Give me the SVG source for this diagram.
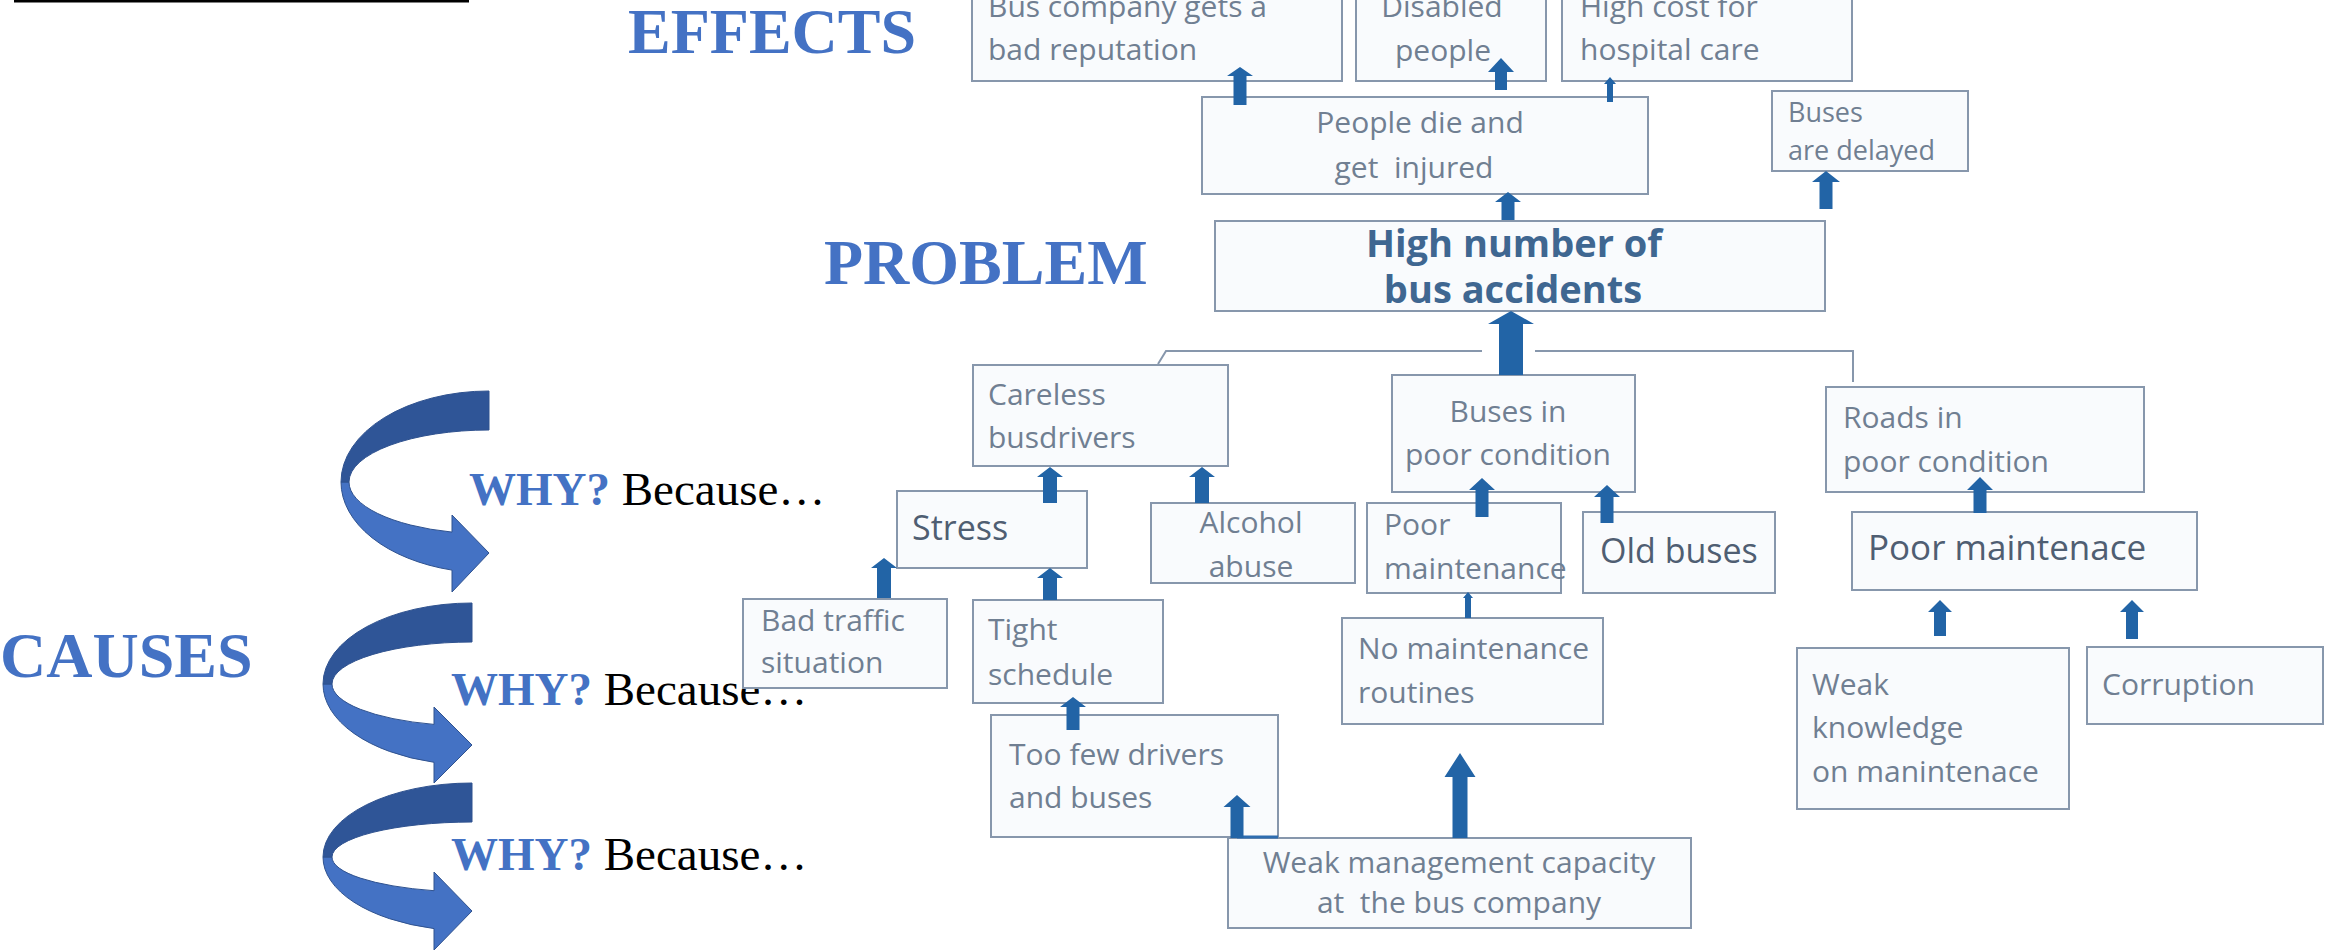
<svg xmlns="http://www.w3.org/2000/svg" width="2325" height="951" viewBox="0 0 2325 951">
  <style>
    .box { fill: #F9FBFD; stroke: #8797AC; stroke-width: 2; }
    .t { font-family: "Open Sans", "Noto Sans", sans-serif; font-size: 30px; fill: #707F92; }
    .c { text-anchor: middle; }
    .dk { fill: #4F5E72; }
    .big { font-family: "Open Sans", "Noto Sans", sans-serif; font-size: 38px; font-weight: bold; fill: #3F6791; text-anchor: middle; }
    .hd { font-family: "Liberation Serif", "Times New Roman", serif; font-weight: bold; font-size: 64px; fill: #4472C4; }
    .why { font-family: "Liberation Serif", "Times New Roman", serif; font-size: 47px; fill: #000000; }
    .why .q { font-weight: bold; fill: #4472C4; }
    .arr { fill: #2264A6; }
    .link { fill: none; stroke: #8797AC; stroke-width: 2; }
    .back { fill: #2F5597; stroke: #2F528F; stroke-width: 1; }
    .front { fill: #4472C4; stroke: #2F528F; stroke-width: 1; }
  </style>

  <!-- header rule -->
  <line x1="14" y1="1" x2="469" y2="1" stroke="#000000" stroke-width="3"/>

  <!-- section headings -->
  <g id="headings">
    <text class="hd" x="628" y="53">EFFECTS</text>
    <text class="hd" x="824" y="284">PROBLEM</text>
    <text class="hd" x="0" y="677">CAUSES</text>
  </g>

  <!-- curled "why" arrows, each a darker back band and a lighter front band with head -->
  <g id="why-arrows">
    <g id="why1">
      <path class="front" d="M341 482 A148 91 0 0 0 452 570.1 L452 592 L489 553 L452 515 L452 532.1 A140 52 0 0 1 349 482 Z"/>
      <path class="back" d="M489 391 A148 91 0 0 0 341 482 L349 482 A140 52 0 0 1 489 430 Z"/>
    </g>
    <g id="why2">
      <path class="front" d="M323 684 A149 81 0 0 0 434 762.3 L434 783 L472 745 L434 707 L434 724.4 A141 42 0 0 1 332 684 Z"/>
      <path class="back" d="M472 603 A149 81 0 0 0 323 684 L332 684 A141 42 0 0 1 472 642 Z"/>
    </g>
    <g id="why3">
      <path class="front" d="M323 857 A149 74 0 0 0 434 928.6 L434 950 L472 911 L434 872 L434 890.7 A141 35 0 0 1 332 857 Z"/>
      <path class="back" d="M472 783 A149 74 0 0 0 323 857 L332 857 A141 35 0 0 1 472 822 Z"/>
    </g>
  </g>

  <g id="why-labels">
    <text class="why" x="469" y="505"><tspan class="q">WHY?</tspan> Because…</text>
    <text class="why" x="451" y="705"><tspan class="q">WHY?</tspan> Because…</text>
    <text class="why" x="451" y="870"><tspan class="q">WHY?</tspan> Because…</text>
  </g>

  <!-- effects -->
  <g id="bus-reputation">
    <rect class="box" x="972" y="-5" width="370" height="86"/>
    <text class="t" x="988" y="17">Bus company gets a</text>
    <text class="t" x="988" y="60">bad reputation</text>
  </g>
  <g id="disabled-people">
    <rect class="box" x="1356" y="-5" width="190" height="86"/>
    <text class="t c" x="1442" y="17">Disabled</text>
    <text class="t c" x="1443" y="61">people</text>
  </g>
  <g id="hospital-cost">
    <rect class="box" x="1562" y="-5" width="290" height="86"/>
    <text class="t" x="1580" y="17">High cost for</text>
    <text class="t" x="1580" y="60">hospital care</text>
  </g>
  <g id="people-die">
    <rect class="box" x="1202" y="97" width="446" height="97"/>
    <text class="t c" x="1420" y="133">People die and</text>
    <text class="t c" x="1414" y="178" xml:space="preserve">get  injured</text>
  </g>
  <g id="buses-delayed">
    <rect class="box" x="1772" y="91" width="196" height="80"/>
    <text class="t" x="1788" y="122" style="font-size:27px">Buses</text>
    <text class="t" x="1788" y="160" style="font-size:27px">are delayed</text>
  </g>

  <!-- core problem -->
  <g id="problem">
    <rect class="box" x="1215" y="221" width="610" height="90"/>
    <text class="big" x="1514" y="257">High number of</text>
    <text class="big" x="1513" y="303">bus accidents</text>
  </g>

  <!-- causes -->
  <g id="careless-drivers">
    <rect class="box" x="973" y="365" width="255" height="101"/>
    <text class="t" x="988" y="405">Careless</text>
    <text class="t" x="988" y="448">busdrivers</text>
  </g>
  <g id="buses-poor">
    <rect class="box" x="1392" y="375" width="243" height="117"/>
    <text class="t c" x="1508" y="422">Buses in</text>
    <text class="t c" x="1508" y="465">poor condition</text>
  </g>
  <g id="roads-poor">
    <rect class="box" x="1826" y="387" width="318" height="105"/>
    <text class="t" x="1843" y="428">Roads in</text>
    <text class="t" x="1843" y="472">poor condition</text>
  </g>
  <g id="stress">
    <rect class="box" x="897" y="491" width="190" height="77"/>
    <text class="t dk" x="912" y="540" style="font-size:34px">Stress</text>
  </g>
  <g id="alcohol">
    <rect class="box" x="1151" y="503" width="204" height="80"/>
    <text class="t c" x="1251" y="533">Alcohol</text>
    <text class="t c" x="1251" y="577">abuse</text>
  </g>
  <g id="bus-maintenance">
    <rect class="box" x="1367" y="503" width="194" height="90"/>
    <text class="t" x="1384" y="535">Poor</text>
    <text class="t" x="1384" y="579">maintenance</text>
  </g>
  <g id="old-buses">
    <rect class="box" x="1583" y="512" width="192" height="81"/>
    <text class="t dk" x="1600" y="563" style="font-size:34px">Old buses</text>
  </g>
  <g id="road-maintenance">
    <rect class="box" x="1852" y="512" width="345" height="78"/>
    <text class="t dk" x="1868" y="560" style="font-size:35px">Poor maintenace</text>
  </g>
  <g id="bad-traffic">
    <rect class="box" x="743" y="599" width="204" height="89"/>
    <text class="t" x="761" y="631">Bad traffic</text>
    <text class="t" x="761" y="673">situation</text>
  </g>
  <g id="tight-schedule">
    <rect class="box" x="973" y="600" width="190" height="103"/>
    <text class="t" x="988" y="640">Tight</text>
    <text class="t" x="988" y="685">schedule</text>
  </g>
  <g id="no-routines">
    <rect class="box" x="1342" y="618" width="261" height="106"/>
    <text class="t" x="1358" y="659">No maintenance</text>
    <text class="t" x="1358" y="703">routines</text>
  </g>
  <g id="weak-knowledge">
    <rect class="box" x="1797" y="648" width="272" height="161"/>
    <text class="t" x="1812" y="695">Weak</text>
    <text class="t" x="1812" y="738">knowledge</text>
    <text class="t" x="1812" y="782">on manintenace</text>
  </g>
  <g id="corruption">
    <rect class="box" x="2087" y="647" width="236" height="77"/>
    <text class="t" x="2102" y="695">Corruption</text>
  </g>
  <g id="too-few">
    <rect class="box" x="991" y="715" width="287" height="122"/>
    <text class="t" x="1009" y="765">Too few drivers</text>
    <text class="t" x="1009" y="808">and buses</text>
  </g>
  <g id="weak-management">
    <rect class="box" x="1228" y="838" width="463" height="90"/>
    <text class="t c" x="1459" y="873">Weak management capacity</text>
    <text class="t c" x="1459" y="913" xml:space="preserve">at  the bus company</text>
  </g>

  <!-- connectors: bracket lines and block arrows -->
  <g id="connectors">
    <polyline class="link" points="1158,364 1166,351 1482,351"/>
    <polyline class="link" points="1535,351 1853,351 1853,382"/>
    <line x1="1237" y1="837" x2="1278" y2="837" stroke="#2E6DB0" stroke-width="3"/>

    <path class="arr" d="M1233.5 105V76H1227L1240 67L1253 76H1246.5V105Z"/>
    <path class="arr" d="M1495 90V72H1488L1501 58L1514 72H1507V90Z"/>
    <path class="arr" d="M1607 102V84H1604L1610 77L1616 84H1613V102Z"/>
    <path class="arr" d="M1501.5 220V202H1495L1508 192L1521 202H1514.5V220Z"/>
    <path class="arr" d="M1819.5 209V182H1812L1826 171L1840 182H1832.5V209Z"/>
    <path class="arr" d="M1499 375V324H1488L1511 311L1534 324H1523V375Z"/>
    <path class="arr" d="M1043 503V477H1037L1050 467L1063 477H1057V503Z"/>
    <path class="arr" d="M1195 503V477H1189L1202 467L1215 477H1209V503Z"/>
    <path class="arr" d="M877 598V568H871L884 558L897 568H891V598Z"/>
    <path class="arr" d="M1043 600V578H1037L1050 568L1063 578H1057V600Z"/>
    <path class="arr" d="M1066.5 730V707H1060L1073 697L1086 707H1079.5V730Z"/>
    <path class="arr" d="M1475.5 517V490H1469L1482 478L1495 490H1488.5V517Z"/>
    <path class="arr" d="M1600.5 523V497H1594L1607 485L1620 497H1613.5V523Z"/>
    <path class="arr" d="M1465 618V598H1463L1468 592L1473 598H1471V618Z"/>
    <path class="arr" d="M1973.5 513V490H1967L1980 477L1993 490H1986.5V513Z"/>
    <path class="arr" d="M1934 636V612H1928L1940 600L1952 612H1946V636Z"/>
    <path class="arr" d="M2126 639V612H2120L2132 600L2144 612H2138V639Z"/>
    <path class="arr" d="M1452.5 838V777H1444.5L1460 753L1475.5 777H1467.5V838Z"/>
    <path class="arr" d="M1230.5 838V807H1223.5L1237 795L1250.5 807H1243.5V838Z"/>
  </g>
</svg>
